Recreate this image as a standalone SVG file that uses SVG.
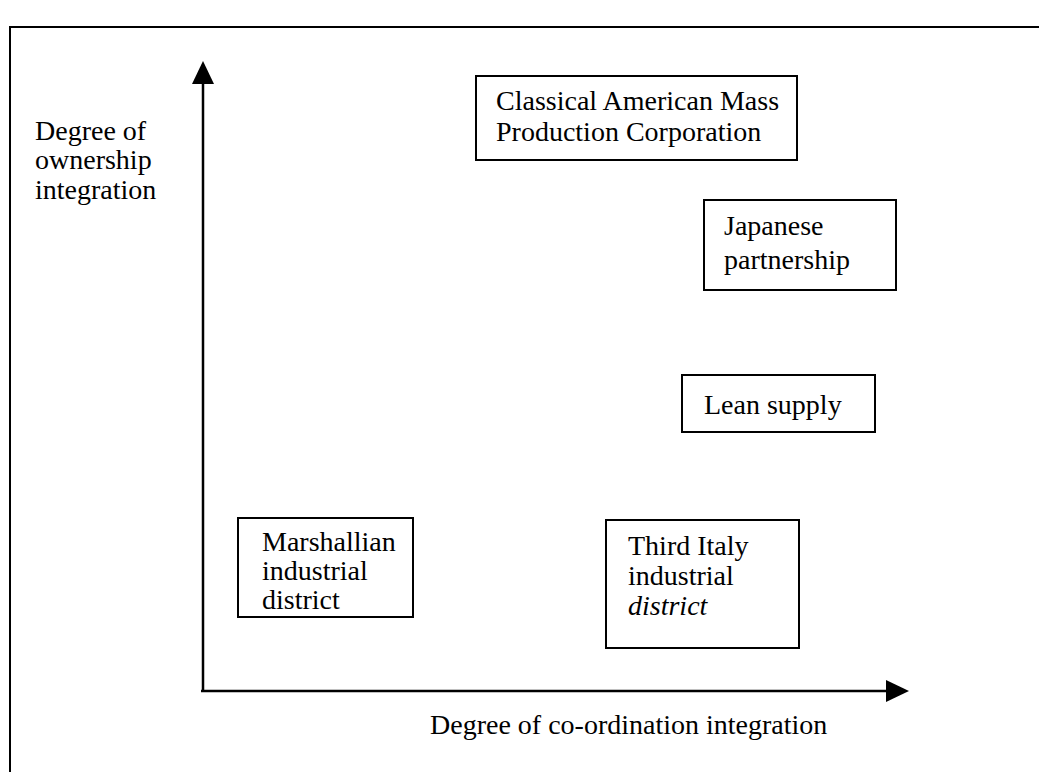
<svg xmlns="http://www.w3.org/2000/svg" width="1039" height="772" viewBox="0 0 1039 772">
<style>
.box{fill:#fff;stroke:#000;stroke-width:2}
.t{font-family:"Liberation Serif","Times New Roman",serif;font-size:28px;fill:#000}
.ax{stroke:#000;stroke-width:2.5;fill:none}
</style>
<rect width="1039" height="772" fill="#fff"/>
<path d="M10,772 V27 H1039" fill="none" stroke="#000" stroke-width="2"/>
<g id="connectors">
<line class="ax" x1="203" y1="691" x2="203" y2="82"/>
<polygon points="203,61 192,84 214,84" fill="#000"/>
<line class="ax" x1="201" y1="691" x2="888" y2="691"/>
<polygon points="909,691 886,680 886,702" fill="#000"/>
</g>
<g id="y-label"><text class="t" x="35" y="140">Degree of</text><text class="t" x="35" y="169">ownership</text><text class="t" x="35" y="199">integration</text></g>
<g id="x-label"><text class="t" x="430" y="734">Degree of co-ordination integration</text></g>
<g id="classical"><rect class="box" x="476" y="76" width="321" height="84"/><text class="t" x="496" y="110">Classical American Mass</text><text class="t" x="496" y="141">Production Corporation</text></g>
<g id="japanese"><rect class="box" x="704" y="200" width="192" height="90"/><text class="t" x="724" y="235">Japanese</text><text class="t" x="724" y="269">partnership</text></g>
<g id="lean"><rect class="box" x="682" y="375" width="193" height="57"/><text class="t" x="704" y="414">Lean supply</text></g>
<g id="marshallian"><rect class="box" x="238" y="518" width="175" height="99"/><text class="t" x="262" y="551">Marshallian</text><text class="t" x="262" y="580">industrial</text><text class="t" x="262" y="609">district</text></g>
<g id="third-italy"><rect class="box" x="606" y="520" width="193" height="128"/><text class="t" x="628" y="555">Third Italy</text><text class="t" x="628" y="585">industrial</text><text class="t" x="628" y="615" font-style="italic">district</text></g>
</svg>
